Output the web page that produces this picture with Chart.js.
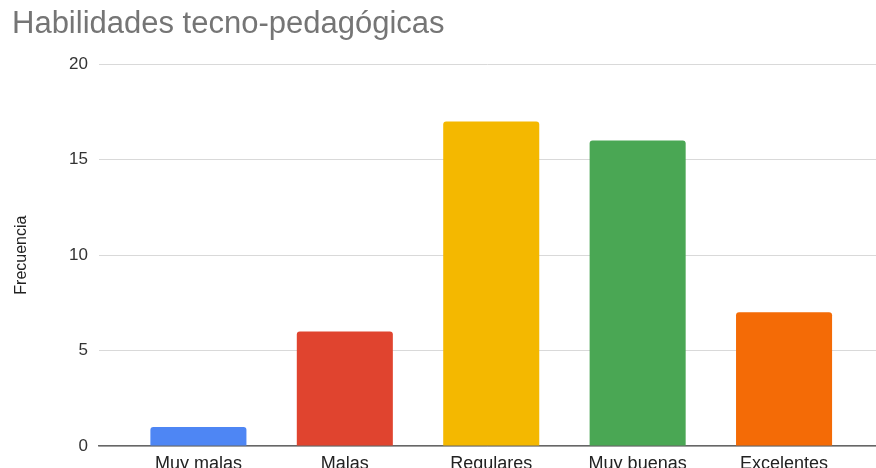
<!DOCTYPE html>
<html>
<head>
<meta charset="utf-8">
<script src="https://cdn.jsdelivr.net/npm/chart.js@4/dist/chart.umd.min.js"></script>
<style>
  html, body { margin: 0; padding: 0; background: #ffffff; }
  #wrap { width: 876px; height: 468px; position: relative; }
</style>
</head>
<body>
<div id="wrap"><canvas id="c" width="876" height="468"></canvas></div>
<script>
const titleText = "Habilidades tecno-pedagógicas";
const yAxisTitle = "Frecuencia";
const categories = ["Muy malas", "Malas", "Regulares", "Muy buenas", "Excelentes"];
const frequencies = [1, 6, 17, 16, 7];
const barColors = ["#4e86f4", "#e0442f", "#f4b800", "#4aa754", "#f46b06"];
const yTicks = [0, 5, 10, 15, 20];

const points = categories.map((c, i) => ({ x: i, y: frequencies[i] }));
const FONT = "'Liberation Sans', Arial, sans-serif";

new Chart(document.getElementById('c'), {
  type: 'bar',
  data: {
    datasets: [{
      data: points,
      backgroundColor: barColors,
      borderWidth: 0,
      borderRadius: 3,
      borderSkipped: 'start',
      categoryPercentage: 1,
      barPercentage: 0.656
    }]
  },
  options: {
    responsive: false,
    animation: false,
    layout: { padding: { left: 12, right: 0, top: 0, bottom: 0 } },
    plugins: {
      legend: { display: false },
      tooltip: { enabled: false },
      title: {
        display: true,
        text: titleText,
        align: 'start',
        color: '#757575',
        font: { family: FONT, size: 31, weight: 'normal' },
        padding: { top: 6, bottom: 21 }
      }
    },
    scales: {
      x: {
        type: 'linear',
        offset: false,
        min: -0.679,
        max: 4.628,
        grid: { display: false, drawTicks: false, offset: false },
        border: { display: true, color: '#666666', width: 1.5 },
        ticks: {
          stepSize: 1,
          includeBounds: false,
          autoSkip: false,
          maxRotation: 0,
          padding: 7,
          color: '#222222',
          font: { family: FONT, size: 18 },
          callback: (v) => (Number.isInteger(v) && categories[v] !== undefined) ? categories[v] : ''
        },
        afterFit: (s) => { s.height = 22; }
      },
      y: {
        min: yTicks[0],
        max: yTicks[yTicks.length - 1],
        grid: { color: '#d9d9d9', lineWidth: 1, drawTicks: false },
        border: { display: false },
        ticks: {
          stepSize: 5,
          padding: 11,
          color: '#333333',
          font: { family: FONT, size: 17 }
        },
        title: {
          display: true,
          text: yAxisTitle,
          color: '#222222',
          font: { family: FONT, size: 16 },
          padding: { top: 0, bottom: 0 }
        },
        afterFit: (s) => { s.width = 87; }
      }
    }
  }
});
</script>
</body>
</html>
